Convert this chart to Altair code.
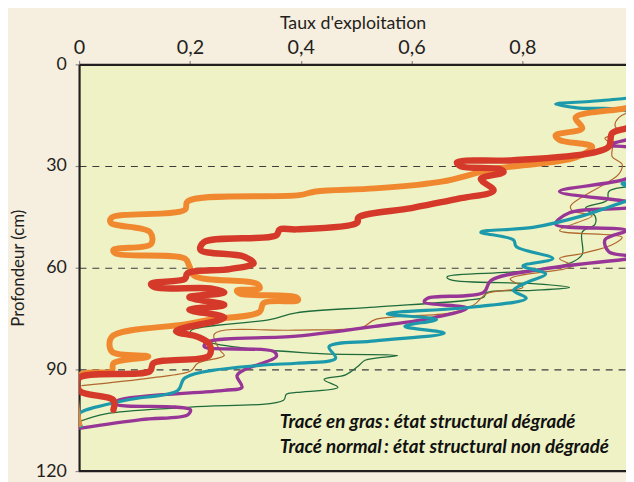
import altair as alt
import pandas as pd

# ---- data (x = taux d'exploitation, d = profondeur en cm) ----
orange_x = [1.0, 0.987, 0.896, 0.908, 0.860, 0.867, 0.926, 0.896, 0.748, 0.654, 0.534, 0.427, 0.397,
            0.196, 0.191, 0.059, 0.057, 0.128, 0.130, 0.062, 0.066, 0.191, 0.199, 0.208, 0.321, 0.326,
            0.285, 0.290, 0.392, 0.395, 0.333, 0.326, 0.237, 0.191, 0.059, 0.059, 0.125, 0.062, 0.059,
            0.0, 0.0]
orange_d = [12.0, 12.9, 15.7, 18.9, 20.9, 22.3, 24.3, 27.5, 30.9, 34.6, 36.6, 37.5, 38.6,
            40.4, 42.9, 45.2, 46.7, 49.5, 53.0, 54.7, 55.8, 57.3, 59.5, 62.4, 64.7, 66.1,
            66.7, 67.6, 68.7, 69.6, 70.4, 73.0, 75.3, 76.7, 80.4, 84.7, 86.2, 88.2, 90.5,
            91.9, 106.2]

red_x = [1.0, 0.987, 0.962, 0.956, 0.926, 0.784, 0.682, 0.689, 0.760, 0.766, 0.725, 0.748, 0.689,
         0.600, 0.504, 0.502, 0.392, 0.362, 0.356, 0.226, 0.219, 0.297, 0.315, 0.272, 0.196, 0.191,
         0.130, 0.137, 0.237, 0.262, 0.199, 0.262, 0.199, 0.262, 0.175, 0.214, 0.235, 0.235, 0.134,
         0.128, 0.0, 0.0, 0.062, 0.062]
red_d = [18.0, 18.9, 20.3, 24.3, 26.1, 28.3, 28.9, 30.1, 30.9, 31.8, 33.8, 37.2, 39.5,
         42.4, 45.2, 46.7, 48.7, 48.7, 50.4, 52.4, 54.7, 56.7, 58.7, 60.4, 61.6, 63.3,
         64.7, 65.8, 66.1, 67.3, 68.7, 71.0, 72.4, 74.7, 78.7, 80.4, 82.5, 85.9, 88.2,
         90.5, 92.5, 96.2, 99.1, 101.9]

teal_x = [1.0, 0.987, 0.926, 0.860, 0.903, 0.987, 1.03, 1.03, 0.980, 1.03, 0.997, 0.987, 0.908,
          0.819, 0.725, 0.784, 0.789, 0.855, 0.801, 0.842, 0.807, 0.784, 0.807, 0.712, 0.556, 0.645,
          0.588, 0.659, 0.534, 0.451, 0.463, 0.392, 0.333, 0.191, 0.178, 0.084, 0.0, 0.0, 0.004]
teal_d = [9.6, 10.0, 10.9, 11.7, 12.9, 13.7, 19.5, 33.8, 35.2, 38.0, 40.1, 40.4, 44.7,
          48.1, 49.5, 51.8, 53.8, 57.3, 59.5, 61.8, 64.4, 66.7, 69.0, 71.6, 73.6, 75.3,
          77.3, 79.3, 81.6, 83.3, 86.7, 88.2, 88.7, 92.5, 96.2, 99.1, 103.1, 104.8, 106.8]

purple_x = [1.0, 0.987, 0.956, 1.006, 1.015, 0.987, 0.867, 0.987, 1.015, 0.987, 0.885, 0.860, 0.987,
            0.949, 0.956, 0.987, 1.015, 0.987, 0.837, 0.743, 0.730, 0.629, 0.623, 0.700, 0.641, 0.534,
            0.392, 0.232, 0.226, 0.351, 0.356, 0.297, 0.285, 0.294, 0.262, 0.071, 0.066, 0.173, 0.201,
            0.196, 0.112, 0.0]
purple_d = [21.8, 22.3, 23.8, 25.2, 30.9, 33.8, 37.5, 40.4, 41.5, 42.4, 43.8, 47.2, 49.0,
            51.8, 55.3, 56.4, 57.0, 57.5, 60.4, 63.8, 67.3, 69.0, 70.1, 71.9, 74.7, 77.3,
            80.2, 81.9, 83.3, 84.7, 86.2, 90.2, 91.9, 95.3, 96.2, 99.1, 100.2, 101.1, 101.9,
            103.4, 104.8, 107.4]

brown_x = [1.0, 0.974, 0.967, 0.974, 0.949, 0.962, 0.962, 0.980, 0.974, 0.956, 0.887, 0.890, 0.926,
           0.867, 0.980, 0.962, 0.908, 0.867, 0.890, 0.778, 0.801, 0.736, 0.712, 0.671, 0.534, 0.511,
           0.392, 0.244, 0.255, 0.262, 0.214, 0.201, 0.130, 0.005]
brown_d = [13.7, 15.7, 18.0, 20.0, 21.8, 23.8, 27.2, 29.5, 32.4, 34.6, 41.8, 43.2, 44.7,
           49.0, 51.0, 53.2, 55.8, 57.3, 59.5, 63.3, 65.8, 67.6, 71.0, 73.3, 75.3, 77.6,
           78.4, 79.6, 84.5, 85.9, 88.2, 90.5, 92.5, 94.8]

green_x = [1.0, 0.987, 0.956, 0.953, 0.914, 0.931, 0.931, 0.908, 0.908, 0.885, 0.801, 0.664, 0.671,
           0.819, 0.885, 0.819, 0.736, 0.730, 0.700, 0.534, 0.392, 0.344, 0.201, 0.226, 0.427, 0.575,
           0.516, 0.504, 0.481, 0.442, 0.467, 0.392, 0.374, 0.369, 0.201, 0.048, 0.0]
green_d = [35.5, 36.1, 37.5, 40.1, 42.4, 44.7, 47.2, 49.5, 56.1, 58.7, 61.0, 62.7, 63.6,
           64.7, 65.8, 66.7, 67.3, 68.7, 69.6, 71.6, 73.3, 75.3, 78.7, 81.6, 85.3, 85.9,
           87.3, 89.0, 91.6, 93.0, 95.3, 96.8, 97.3, 99.1, 101.1, 103.1, 105.4]

note_lines = ["Tracé en gras\u2009: état structural dégradé",
              "Tracé normal\u2009: état structural non dégradé"]
note_x = [0.362, 0.362]
note_d = [107.2, 114.6]

x_ticks = [0, 0.2, 0.4, 0.6, 0.8]
y_ticks = [0, 30, 60, 90, 120]

# ---- styles ----
INK = "#231F20"
FONT = "Lato"

series = [
    ("green", green_x, green_d, "#1F6B3C", 1.3),
    ("brown", brown_x, brown_d, "#B2672F", 1.2),
    ("purple", purple_x, purple_d, "#973696", 3.4),
    ("teal", teal_x, teal_d, "#1C9AAB", 3.2),
    ("orange", orange_x, orange_d, "#F0882F", 6.0),
    ("red", red_x, red_d, "#D5392A", 6.5),
]

X = alt.X("x:Q",
          scale=alt.Scale(domain=[0, 0.987], nice=False, zero=False),
          axis=alt.Axis(orient="top", values=x_ticks, title="Taux d'exploitation",
                        format=".1~f",
                        labelExpr="replace(datum.label, '.', ',')",
                        grid=False, domainColor=INK, domainWidth=2.2,
                        tickColor="#8a8a8a", tickSize=4, tickWidth=1.2,
                        labelFont=FONT, labelFontSize=20, labelColor=INK, labelPadding=3,
                        labelFlush=False,
                        titleFont=FONT, titleFontSize=18, titleFontWeight="normal",
                        titleColor=INK, titlePadding=5))
Y = alt.Y("d:Q",
          scale=alt.Scale(domain=[0, 120], reverse=True, nice=False, zero=False),
          axis=alt.Axis(values=y_ticks, title="Profondeur (cm)",
                        grid=True, gridDash=[7, 6], gridColor="#3c3c3c", gridWidth=1.1,
                        domainColor=INK, domainWidth=2.2,
                        tickColor="#8a8a8a", tickSize=4, tickWidth=1.2,
                        labelFont=FONT, labelFontSize=18, labelColor=INK, labelPadding=9,
                        labelFlush=False,
                        titleFont=FONT, titleFontSize=17, titleFontWeight="normal",
                        titleColor=INK, titlePadding=8))

layers = []
for name, xs, ds, col, sw in series:
    df = pd.DataFrame({"x": xs, "d": ds, "i": list(range(len(xs)))})
    layers.append(
        alt.Chart(df).mark_line(color=col, strokeWidth=sw, clip=True,
                                interpolate="catmull-rom", strokeJoin="round", strokeCap="round")
        .encode(x=X, y=Y, order=alt.Order("i:Q"))
    )

frame = alt.Chart(pd.DataFrame({"d": [120]})).mark_rule(color=INK, strokeWidth=2.2).encode(y=Y)

notes = alt.Chart(pd.DataFrame({"x": note_x, "d": note_d, "t": note_lines})).mark_text(
    align="left", baseline="alphabetic", font=FONT, fontSize=19, fontStyle="italic",
    fontWeight="bold", color="#111111"
).encode(x=X, y=Y, text="t:N")

chart = alt.layer(*layers, frame, notes).properties(
    width=554, height=412,
    autosize=alt.AutoSizeParams(type="none"),
    padding={"left": 72, "top": 54, "right": 0, "bottom": 10},
    background="#F6EEDE",
).configure_view(fill="#EEF2C4", stroke=None)

chart.save("out.html", embed_options={"renderer": "svg", "actions": False})
